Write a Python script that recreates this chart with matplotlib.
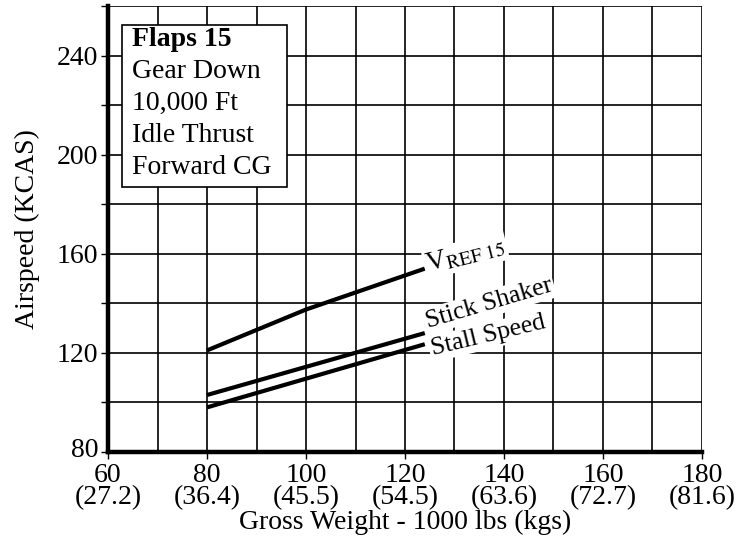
import numpy as np
import matplotlib.pyplot as plt
import matplotlib.transforms as mtransforms

plt.rcParams['font.family'] = ['Liberation Serif', 'DejaVu Serif']

# gross weight (1000 lbs) and airspeed (KCAS)
vref_wt = [80, 100, 124]
vref_kcas = [121, 137.5, 154]
shaker_wt = [80, 124]
shaker_kcas = [103, 128]
stall_wt = [80, 124]
stall_kcas = [98, 123.5]

xticks = [60, 80, 100, 120, 140, 160, 180]
xkgs = ["27.2", "36.4", "45.5", "54.5", "63.6", "72.7", "81.6"]
yticks = [80, 120, 160, 200, 240]

box_lines = ["Gear Down", "10,000 Ft", "Idle Thrust", "Forward CG"]

FS = 20

fig = plt.figure(figsize=(7.44, 5.43), dpi=100)
ax = fig.add_axes([0.1452, 0.1676, 0.7983, 0.8214])

ax.set_xlim(60, 180)
ax.set_ylim(80, 260)
for x in np.arange(70, 181, 10):
    ax.axvline(x, color='black', lw=1.2, zorder=1)
for y in np.arange(100, 261, 20):
    ax.axhline(y, color='black', lw=1.2, zorder=1)

ax.plot(vref_wt, vref_kcas, color='black', lw=3, solid_capstyle='butt', zorder=3)
ax.plot(shaker_wt, shaker_kcas, color='black', lw=3, solid_capstyle='butt', zorder=3)
ax.plot(stall_wt, stall_kcas, color='black', lw=3, solid_capstyle='butt', zorder=3)

# curve labels, white background hides the grid behind them
bg = dict(facecolor='white', edgecolor='none', pad=1.5)
ax.text(124.6, 152.8, r"V$_{\rm REF\ 15}$", fontsize=FS, rotation=14, ha='left', va='baseline',
        bbox=bg, zorder=4, rotation_mode='anchor', math_fontfamily='stix')
ax.text(124.6, 130, "Stick Shaker", fontsize=18.5, rotation=16.5, ha='left', va='baseline',
        bbox=bg, zorder=4, rotation_mode='anchor')
ax.text(125.6, 119, "Stall Speed", fontsize=18.5, rotation=13.5, ha='left', va='baseline',
        bbox=bg, zorder=4, rotation_mode='anchor')

# condition box
ax.add_patch(plt.Rectangle((62.9, 187), 33.3, 65.5, facecolor='white', edgecolor='black',
                           lw=1.2, zorder=4))
ax.text(64.9, 246.5, "Flaps 15", fontsize=FS, fontweight='bold', va='center', zorder=5)
for i, s in enumerate(box_lines):
    ax.text(64.9, 233.6 - i * 12.9, s, fontsize=FS, va='center', zorder=5)

ax.set_xticks(xticks)
ax.set_xticklabels([f"{a}\n({b})" for a, b in zip(xticks, xkgs)], fontsize=FS, linespacing=0.85)
ax.set_yticks(np.arange(80, 261, 20))
ax.set_yticklabels([str(v) if v in yticks else "" for v in np.arange(80, 261, 20)], fontsize=FS)
ax.tick_params(axis='both', direction='out', length=5, width=1, color='black', pad=2)
ax.tick_params(axis='x', pad=3)

# lift the "80" a touch so it doesn't sit on the "60"
lab80 = ax.get_yticklabels()[0]
lab80.set_transform(lab80.get_transform() + mtransforms.ScaledTranslation(0, 3 / 72, fig.dpi_scale_trans))

for side in ['top', 'right']:
    ax.spines[side].set_visible(False)
ax.spines['left'].set_linewidth(3.2)
ax.spines['bottom'].set_linewidth(3.2)
ax.spines['left'].set_zorder(6)
ax.spines['bottom'].set_zorder(6)

ax.set_xlabel("Gross Weight - 1000 lbs (kgs)", fontsize=FS, labelpad=0)
ax.set_ylabel("Airspeed (KCAS)", fontsize=FS, labelpad=12)

fig.savefig("out.png", dpi=100)
